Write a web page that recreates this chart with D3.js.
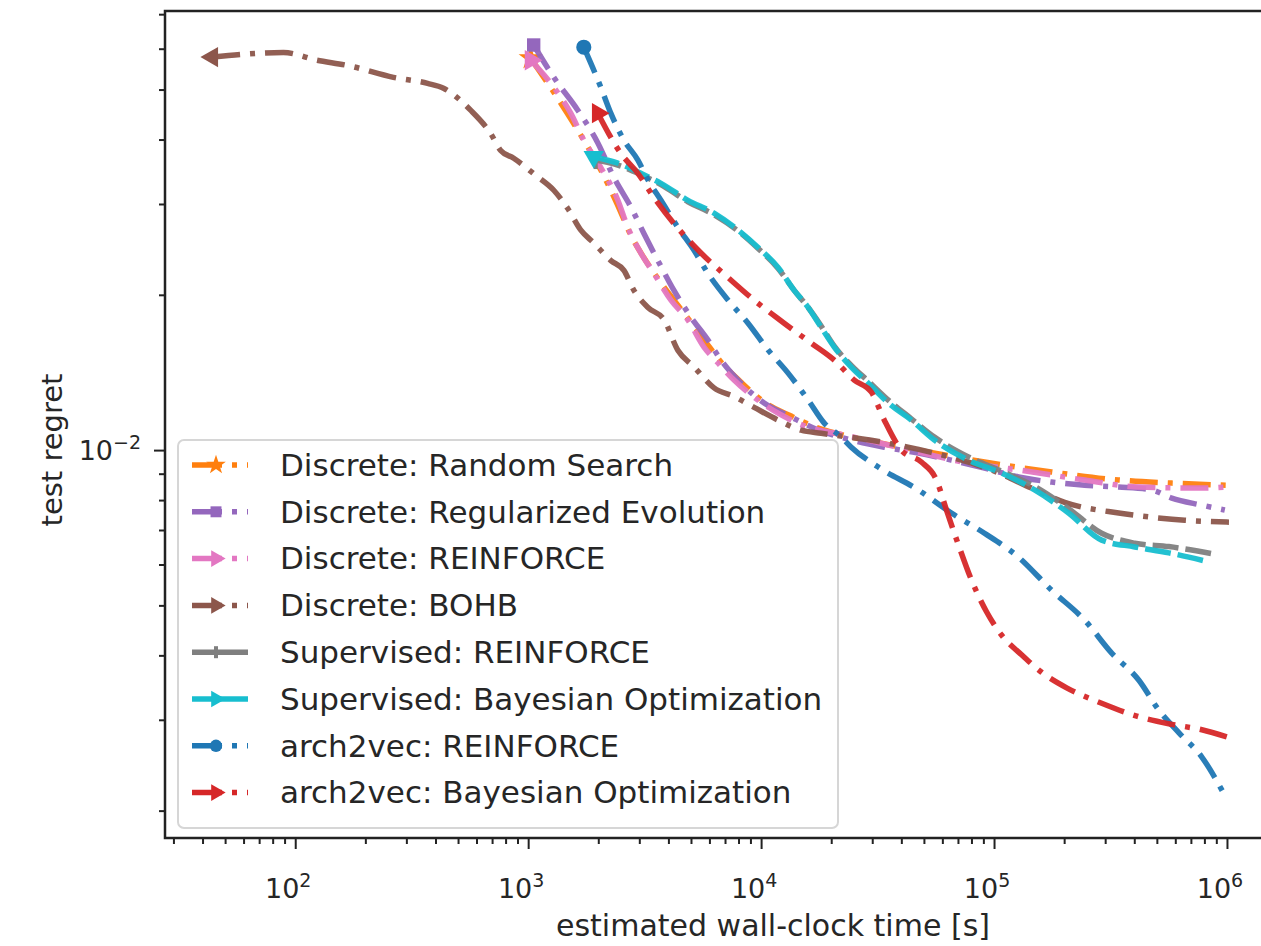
<!DOCTYPE html>
<html>
<head>
<meta charset="utf-8">
<script src="https://cdn.jsdelivr.net/npm/d3@7/dist/d3.min.js"></script>
<style>
  body { margin: 0; background: #fff; }
  text { font-family: "DejaVu Sans", sans-serif; fill: #262626; }
</style>
</head>
<body>
<svg id="chart" width="1261" height="946"></svg>
<script>

// values (time in s, test regret)
var seriesNames = ["Discrete: Random Search", "Discrete: Regularized Evolution", "Discrete: REINFORCE",
    "Discrete: BOHB", "Supervised: REINFORCE", "Supervised: Bayesian Optimization",
    "arch2vec: REINFORCE", "arch2vec: Bayesian Optimization"];

var rsTime = [1025, 1288, 1633, 2051, 2427, 2760, 3140, 3606, 4225, 4999, 5916, 6730, 8204, 10300, 13460, 17590, 24380, 47330, 91000, 176600, 342700, 579500, 1000000];
var rsRegret = [0.0575, 0.0494, 0.0417, 0.0349, 0.0298, 0.0261, 0.0236, 0.0215, 0.01953, 0.0177, 0.01598, 0.01481, 0.01354, 0.01239, 0.01164, 0.01103, 0.0106, 0.0100, 0.00948, 0.00907, 0.00875, 0.00863, 0.00855];

var reTime = [1056, 1288, 1633, 1991, 2332, 2760, 3140, 3606, 4225, 4999, 5916, 6730, 8204, 10300, 13460, 17590, 24380, 33800, 47330, 65600, 91000, 127400, 176600, 244900, 342700, 475300, 579500, 780000, 979000];
var reRegret = [0.0610, 0.0528, 0.0456, 0.0394, 0.0338, 0.0296, 0.0263, 0.0233, 0.0204, 0.0181, 0.01634, 0.01494, 0.01348, 0.01234, 0.01159, 0.01094, 0.01046, 0.01013, 0.00987, 0.00956, 0.00923, 0.00887, 0.00867, 0.00855, 0.00848, 0.00837, 0.00807, 0.00782, 0.00765];

var rfTime = [1025, 1288, 1523, 1733, 2051, 2427, 2679, 3047, 3466, 4102, 4853, 5686, 6531, 7653, 9331, 11830, 15930, 20610, 28840, 47330, 77620, 127400, 244900, 418600, 780000, 979000];
var rfRegret = [0.0570, 0.0505, 0.0450, 0.0399, 0.0353, 0.0305, 0.0270, 0.0241, 0.0220, 0.01953, 0.01786, 0.01584, 0.01475, 0.01367, 0.01266, 0.01179, 0.01108, 0.01079, 0.01045, 0.00991, 0.00944, 0.00915, 0.00875, 0.00848, 0.00844, 0.00848];

var bohbTime = [44, 89, 124, 167, 264, 370, 433, 566, 690, 762, 867, 1077, 1288, 1479, 1683, 1914, 2265, 2576, 2844, 3268, 3828, 4398, 5152, 6281, 7656, 9333, 11830, 14860, 18110, 29700, 53800, 97500, 144900, 201000, 343000, 475000, 659000, 1020000];
var bohbRegret = [0.0578, 0.0590, 0.0570, 0.0557, 0.0528, 0.0514, 0.0503, 0.0456, 0.0411, 0.0381, 0.0368, 0.0341, 0.0319, 0.0294, 0.0267, 0.0252, 0.0233, 0.0223, 0.0204, 0.0189, 0.0179, 0.0156, 0.0145, 0.0132, 0.0127, 0.0121, 0.01143, 0.01093, 0.01078, 0.01045, 0.0099, 0.00915, 0.00844, 0.00792, 0.00755, 0.00741, 0.00731, 0.00725];

var supRfTime = [1950, 2427, 3047, 3715, 4853, 6278, 7962, 9707, 11830, 13870, 15930, 18110, 20610, 24380, 28840, 35170, 44150, 55460, 77620, 107700, 149300, 208900, 289700, 401700, 563000, 861000];
var supRfRegret = [0.0365, 0.0357, 0.0342, 0.0327, 0.0303, 0.0286, 0.0266, 0.0246, 0.0225, 0.0204, 0.0189, 0.0174, 0.0159, 0.0146, 0.0136, 0.0125, 0.0115, 0.0106, 0.0097, 0.0091, 0.0085, 0.0077, 0.0069, 0.0066, 0.0065, 0.0063];

var supBoTime = [1912, 2427, 3047, 3715, 4853, 6278, 7962, 9707, 11830, 13870, 15930, 18110, 20610, 24380, 28840, 35170, 44150, 55460, 77620, 107700, 149300, 208900, 289700, 401700, 563000, 837300];
var supBoRegret = [0.0370, 0.0360, 0.0344, 0.0329, 0.0305, 0.0288, 0.0267, 0.0247, 0.0226, 0.0204, 0.0189, 0.0173, 0.01584, 0.01449, 0.01348, 0.01234, 0.01143, 0.01046, 0.00956, 0.00903, 0.00837, 0.00755, 0.00669, 0.00649, 0.00632, 0.00607];

var a2vRfTime = [1733, 2051, 2263, 2576, 2958, 3268, 3715, 4398, 5152, 5916, 7216, 8790, 10720, 13060, 15930, 18660, 22080, 24380, 31840, 47330, 65600, 91000, 127400, 176600, 244900, 320000, 418600, 510600, 622400, 780000, 979000];
var a2vRfRegret = [0.0604, 0.0505, 0.0450, 0.0399, 0.0365, 0.0334, 0.0305, 0.0270, 0.0244, 0.0220, 0.01953, 0.01762, 0.01563, 0.01410, 0.01250, 0.01128, 0.01060, 0.01013, 0.00927, 0.00837, 0.00755, 0.00690, 0.00620, 0.00535, 0.00468, 0.00404, 0.00358, 0.00313, 0.00283, 0.00254, 0.00214];

var a2vBoTime = [1991, 2499, 2958, 3466, 4225, 5521, 7216, 9331, 12560, 16410, 20610, 25120, 29720, 33800, 39990, 48750, 56600, 62500, 70350, 80000, 92850, 107700, 131300, 160000, 205000, 289700, 410000, 579500, 780000, 1000000];
var a2vBoRegret = [0.0450, 0.0376, 0.0344, 0.0309, 0.0275, 0.0241, 0.0216, 0.01953, 0.01762, 0.01612, 0.01494, 0.01367, 0.01296, 0.01143, 0.0100, 0.00948, 0.00875, 0.00765, 0.00655, 0.00560, 0.00486, 0.00438, 0.00401, 0.00371, 0.00346, 0.00323, 0.00305, 0.00294, 0.00287, 0.00278];

var xTickValues = [1e2, 1e3, 1e4, 1e5, 1e6];
var xTickExps = ["2", "3", "4", "5", "6"];
var yTickValues = [1e-2];
var yTickExps = ["\u22122"];

var colors = ["#ff7f0e", "#9467bd", "#e377c2", "#8c564b", "#7f7f7f", "#17becf", "#1f77b4", "#d62728"];

var drawChart = () => {

    var series = [
        { name: seriesNames[0], t: rsTime, r: rsRegret, color: colors[0], dash: "28,10,5,10", sym: d3.symbolStar, rot: 0 },
        { name: seriesNames[1], t: reTime, r: reRegret, color: colors[1], dash: "28,10,5,10", sym: d3.symbolSquare, rot: 0 },
        { name: seriesNames[2], t: rfTime, r: rfRegret, color: colors[2], dash: "28,10,5,10", sym: d3.symbolTriangle, rot: 90 },
        { name: seriesNames[3], t: bohbTime, r: bohbRegret, color: colors[3], dash: "28,10,5,10", sym: d3.symbolTriangle, rot: -90 },
        { name: seriesNames[4], t: supRfTime, r: supRfRegret, color: colors[4], dash: "26,7", sym: null, rot: 0 },
        { name: seriesNames[5], t: supBoTime, r: supBoRegret, color: colors[5], dash: "26,7", sym: d3.symbolTriangle, rot: 180 },
        { name: seriesNames[6], t: a2vRfTime, r: a2vRfRegret, color: colors[6], dash: "28,10,5,10", sym: d3.symbolCircle, rot: 0 },
        { name: seriesNames[7], t: a2vBoTime, r: a2vBoRegret, color: colors[7], dash: "28,10,5,10", sym: d3.symbolTriangle, rot: 90 }
    ];

    var svg = d3.select("#chart");
    var plotLeft = 165, plotRight = 1264, plotTop = 11, plotBottom = 838;

    var x = d3.scaleLog().domain([27.6, 1.442e6]).range([plotLeft, plotRight]);
    var y = d3.scaleLog().domain([0.00177, 0.0710]).range([plotBottom, plotTop]);

    svg.append("clipPath").attr("id", "plotclip")
        .append("rect").attr("x", plotLeft).attr("y", plotTop)
        .attr("width", plotRight - plotLeft).attr("height", plotBottom - plotTop);

    var line = d3.line()
        .x(function(d) { return x(d[0]); })
        .y(function(d) { return y(d[1]); })
        .curve(d3.curveMonotoneX);

    var plot = svg.append("g").attr("clip-path", "url(#plotclip)");

    series.forEach(function(s) {
        var pts = s.t.map(function(t, i) { return [t, s.r[i]]; });
        plot.append("path")
            .datum(pts)
            .attr("d", line)
            .attr("fill", "none")
            .attr("stroke", s.color)
            .attr("stroke-width", 5.5)
            .attr("stroke-dasharray", s.dash)
            .attr("stroke-opacity", 0.95);
        // marker on the first point only
        var p0 = pts[0];
        if (s.sym) {
            plot.append("path")
                .attr("d", d3.symbol().type(s.sym).size(180)())
                .attr("transform", "translate(" + x(p0[0]) + "," + y(p0[1]) + ") rotate(" + s.rot + ")")
                .attr("fill", s.color);
        } else {
            plot.append("rect")
                .attr("x", x(p0[0]) - 2).attr("y", y(p0[1]) - 9)
                .attr("width", 4).attr("height", 18)
                .attr("fill", s.color);
        }
    });

    // minor ticks
    var minorX = [];
    for (var e = 1; e <= 6; e++) {
        for (var m = 2; m <= 9; m++) {
            var v = m * Math.pow(10, e);
            if (v > 27.6 && v < 1.44e6) minorX.push(v);
        }
    }
    var minorY = [];
    for (var e2 = -3; e2 <= -2; e2++) {
        for (var m2 = 2; m2 <= 9; m2++) {
            var v2 = m2 * Math.pow(10, e2);
            if (v2 > 0.00177 && v2 < 0.071) minorY.push(v2);
        }
    }

    var xMinor = svg.append("g").attr("transform", "translate(0," + plotBottom + ")")
        .call(d3.axisBottom(x).tickValues(minorX).tickSize(6).tickFormat(""));
    var xMajor = svg.append("g").attr("transform", "translate(0," + plotBottom + ")")
        .call(d3.axisBottom(x).tickValues(xTickValues).tickSize(11).tickFormat(""));
    var yMinor = svg.append("g").attr("transform", "translate(" + plotLeft + ",0)")
        .call(d3.axisLeft(y).tickValues(minorY).tickSize(6).tickFormat(""));
    var yMajor = svg.append("g").attr("transform", "translate(" + plotLeft + ",0)")
        .call(d3.axisLeft(y).tickValues(yTickValues).tickSize(11).tickFormat(""));

    [xMinor, xMajor, yMinor, yMajor].forEach(function(g) {
        g.select(".domain").remove();
        g.selectAll(".tick line").attr("stroke", "#222").attr("stroke-width", 2);
    });

    // spines
    svg.append("rect")
        .attr("x", plotLeft).attr("y", plotTop)
        .attr("width", plotRight - plotLeft).attr("height", plotBottom - plotTop)
        .attr("fill", "none").attr("stroke", "#222").attr("stroke-width", 2.5);

    // tick labels
    xTickValues.forEach(function(v, i) {
        var t = svg.append("text")
            .attr("x", x(v) - 7).attr("y", 898)
            .attr("text-anchor", "middle")
            .style("font-size", "27px");
        t.append("tspan").text("10");
        t.append("tspan").attr("dy", -11).style("font-size", "19px").text(xTickExps[i]);
    });
    yTickValues.forEach(function(v, i) {
        var t = svg.append("text")
            .attr("x", 141).attr("y", y(v) + 10)
            .attr("text-anchor", "end")
            .style("font-size", "27px");
        t.append("tspan").text("10");
        t.append("tspan").attr("dy", -11).style("font-size", "19px").text(yTickExps[i]);
    });

    svg.append("text")
        .attr("x", 773).attr("y", 936)
        .attr("text-anchor", "middle")
        .style("font-size", "30px")
        .text("estimated wall-clock time [s]");

    svg.append("text")
        .attr("transform", "translate(62,450) rotate(-90)")
        .attr("text-anchor", "middle")
        .style("font-size", "29px")
        .text("test regret");

    // legend
    var leg = svg.append("g");
    leg.append("rect")
        .attr("x", 178).attr("y", 440).attr("width", 660).attr("height", 388)
        .attr("rx", 6)
        .attr("fill", "#fff").attr("fill-opacity", 0.85)
        .attr("stroke", "#d6d6d6").attr("stroke-width", 2);

    series.forEach(function(s, i) {
        var cy = 465 + i * 46.8;
        leg.append("line")
            .attr("x1", 192).attr("x2", 248).attr("y1", cy).attr("y2", cy)
            .attr("stroke", s.color).attr("stroke-width", 5.5)
            .attr("stroke-dasharray", s.dash.split(",").length > 2 ? "30,10,5,10" : "60,0");
        if (s.sym) {
            leg.append("path")
                .attr("d", d3.symbol().type(s.sym).size(120)())
                .attr("transform", "translate(216," + cy + ") rotate(" + (s.rot === 0 ? 0 : 90) + ")")
                .attr("fill", s.color);
        } else {
            leg.append("rect")
                .attr("x", 214).attr("y", cy - 6).attr("width", 4).attr("height", 12)
                .attr("fill", s.color);
        }
        leg.append("text")
            .attr("x", 280).attr("y", cy)
            .attr("dy", "0.35em")
            .style("font-size", "31px")
            .text(s.name);
    });
}

drawChart();

</script>
</body>
</html>
